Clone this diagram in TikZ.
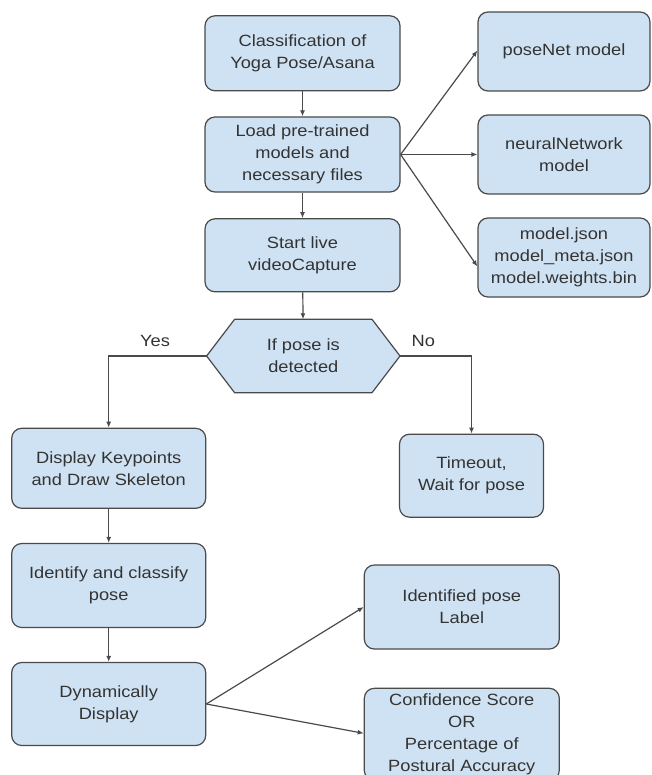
\documentclass[tikz,border=0pt]{standalone}
\usepackage{fontspec}
\setmainfont{Liberation Sans}[FakeStretch=1.12]
\usepackage{xcolor}
\usepackage{tikz}
\usetikzlibrary{arrows.meta,backgrounds}

\definecolor{boxblue}{HTML}{CFE2F3}
\definecolor{boxline}{HTML}{4A4A4A}
\definecolor{txtgray}{HTML}{333333}

\begin{document}
\begin{tikzpicture}[
    x=1pt, y=-1pt,
    box/.style={draw=boxline, fill=boxblue, rounded corners=10pt, line width=1.2pt,
                align=center, text=txtgray, inner sep=2pt,
                font=\fontsize{16.3}{22}\selectfont},
    dectext/.style={minimum width=193pt, minimum height=73pt, align=center,
                    text=txtgray, inner sep=2pt, font=\fontsize{16.3}{22}\selectfont},
    hexfill/.style={draw=boxline, fill=boxblue, line width=1.2pt, line join=round},
    lbl/.style={text=txtgray, font=\fontsize{16.3}{22}\selectfont, inner sep=1pt},
    arr/.style={draw=boxline, line width=1.2pt, -{Latex[length=6pt,width=5pt]}}
]
\clip (0,0) rectangle (651,775);

% ================================================================
%  Main column
% ================================================================
\node[box, minimum width=195pt, minimum height=75pt] (cls)   at (302.5,53.3) {Classification of\\Yoga Pose/Asana};
\node[box, minimum width=195pt, minimum height=75pt] (load)  at (302.5,154.5) {Load pre-trained\\models and\\necessary files};
\node[box, minimum width=195pt, minimum height=73pt] (start) at (302.5,255.3) {Start live\\videoCapture};

% loaded files
\node[box, minimum width=172pt, minimum height=79pt] (posenet) at (564,51.5)  {poseNet model};
\node[box, minimum width=172pt, minimum height=79pt] (neural)  at (564,154.5) {neuralNetwork\\model};
\node[box, minimum width=172pt, minimum height=79pt] (files)   at (564,257.5) {model.json\\model\_meta.json\\model.weights.bin};

% decision
\node[dectext] (det) at (303.3,356) {If pose is\\detected};
\begin{scope}[on background layer]
    \draw[hexfill] (det.west) -- ([xshift=28pt]det.north west) -- ([xshift=-28pt]det.north east)
        -- (det.east) -- ([xshift=-28pt]det.south east) -- ([xshift=28pt]det.south west) -- cycle;
\end{scope}
\node[lbl] (yes) at (155,341) {Yes};
\node[lbl] (no)  at (423.3,341) {No};

% ================================================================
%  Branches
% ================================================================
\node[box, minimum width=194pt, minimum height=80pt] (disp)  at (108.7,468.3) {Display Keypoints\\and Draw Skeleton};
\node[box, minimum width=144pt, minimum height=83pt] (tout)  at (471.5,475.7) {Timeout,\\Wait for pose};
\node[box, minimum width=194pt, minimum height=84pt] (ident) at (108.7,585.5) {Identify and classify\\pose};
\node[box, minimum width=194pt, minimum height=83pt] (dyn)   at (108.7,704)   {Dynamically\\Display};

% outputs
\node[box, minimum width=195pt, minimum height=84pt] (plabel) at (461.8,607)   {Identified pose\\Label};
\node[box, minimum width=195pt, minimum height=92pt] (conf)   at (461.8,734.3) {Confidence Score\\OR\\Percentage of\\Postural Accuracy};

% connectors
\draw[arr] (cls) -- (load);
\draw[arr] (load) -- (start);
\draw[arr] (start) -- (det);
\draw[arr] (load.east) -- ([yshift=1pt]posenet.west);
\draw[arr] (load.east) -- (neural.west);
\draw[arr] (load.east) -- ([yshift=-9pt]files.west);
\draw[arr] (det.west) -| (disp.north);
\draw[arr] (det.east) -| (tout.north);
\draw[arr] (disp) -- (ident);
\draw[arr] (ident) -- (dyn);
\draw[arr] (dyn.east) -- (plabel.west);
\draw[arr] (dyn.east) -- ([yshift=1pt]conf.west);
\end{tikzpicture}
\end{document}
